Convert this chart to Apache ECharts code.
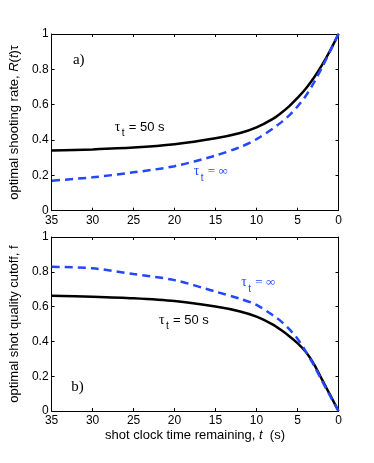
<!DOCTYPE html>
<html>
<head>
<meta charset="utf-8">
<script src="https://cdn.jsdelivr.net/npm/echarts@6/dist/echarts.min.js"></script>
<style>
html,body{margin:0;padding:0;background:#fff;}
#chart{width:374px;height:463px;}
</style>
</head>
<body>
<div id="chart"></div>
<script>
// shot clock time remaining (s)
const times = [35, 30, 25, 20, 15, 12, 10, 8, 7, 6, 5, 4, 3, 2, 1, 0];
// a) optimal shooting rate R(t)tau
const rateTau50 = [0.341, 0.347, 0.357, 0.376, 0.410, 0.440, 0.472, 0.520, 0.553, 0.592, 0.638, 0.690, 0.752, 0.825, 0.908, 1.0];
const rateTauInf = [0.170, 0.189, 0.217, 0.252, 0.312, 0.360, 0.405, 0.465, 0.500, 0.540, 0.590, 0.649, 0.725, 0.812, 0.905, 1.0];
// b) optimal shot quality cutoff f
const cutoffTau50 = [0.663, 0.657, 0.648, 0.632, 0.600, 0.572, 0.542, 0.496, 0.465, 0.430, 0.390, 0.340, 0.270, 0.180, 0.090, 0];
const cutoffTauInf = [0.829, 0.820, 0.787, 0.752, 0.686, 0.645, 0.610, 0.550, 0.515, 0.470, 0.415, 0.343, 0.263, 0.172, 0.085, 0];
// axis ranges / ticks
const xMin = 0, xMax = 35, xStep = 5;
const yMin = 0, yMax = 1, yStep = 0.2;
// annotation anchors [t, value]
const labelA = [32.4, 0.852];
const labelB = [32.6, 0.138];
const noteRate50 = [27.3, 0.47];
const noteRateInf = [17.65, 0.22];
const noteCut50 = [21.9, 0.522];
const noteCutInf = [11.85, 0.737];

const BLACK = '#000';
const BLUE = '#2446ff';
const SANS = 'Liberation Sans, Arial, Helvetica, sans-serif';
const SERIF = 'Liberation Serif, Times New Roman, serif';

const chart = echarts.init(document.getElementById('chart'), null, {renderer: 'canvas'});

function xAx(gridIndex, pos, labels, name) {
  const a = {
    type: 'value', gridIndex: gridIndex, position: pos, inverse: true,
    min: xMin, max: xMax, interval: xStep,
    axisLine: {show: true, onZero: false, lineStyle: {color: BLACK, width: 1}},
    axisTick: {show: true, inside: true, length: 3, lineStyle: {color: BLACK}},
    splitLine: {show: false},
    axisLabel: {show: labels, color: BLACK, fontSize: 12, fontFamily: SANS, margin: 4}
  };
  if (name) {
    a.name = name;
    a.nameLocation = 'middle';
    a.nameGap = 18;
    a.nameTextStyle = {
      color: BLACK, fontSize: 13, fontFamily: SANS, verticalAlign: 'top',
      rich: {
        n: {color: BLACK, fontSize: 13, fontFamily: SANS},
        i: {color: BLACK, fontSize: 13, fontFamily: SANS, fontStyle: 'italic'}
      }
    };
  }
  return a;
}
function yAx(gridIndex, pos, labels, name) {
  const a = {
    type: 'value', gridIndex: gridIndex, position: pos,
    min: yMin, max: yMax, interval: yStep,
    axisLine: {show: true, onZero: false, lineStyle: {color: BLACK, width: 1}},
    axisTick: {show: true, inside: true, length: 3, lineStyle: {color: BLACK}},
    splitLine: {show: false},
    axisLabel: {show: labels, color: BLACK, fontSize: 12, fontFamily: SANS, margin: 3}
  };
  if (name) {
    a.name = name;
    a.nameLocation = 'middle';
    a.nameGap = 24;
    a.nameRotate = 90;
    a.nameTextStyle = {
      color: BLACK, fontSize: 13, fontFamily: SANS,
      rich: {
        n: {color: BLACK, fontSize: 13, fontFamily: SANS},
        i: {color: BLACK, fontSize: 13, fontFamily: SANS, fontStyle: 'italic'}
      }
    };
  }
  return a;
}
// points ordered by increasing t so the smoothing stays monotone
function pairs(ys) { return times.map((t, i) => [t, ys[i]]).sort((a, b) => a[0] - b[0]); }
function line(data, xi, yi, color, dashed) {
  return {
    type: 'line', xAxisIndex: xi, yAxisIndex: yi, data: pairs(data),
    smooth: 0.3, symbol: 'none', silent: true,
    lineStyle: {color: color, width: 2.5, type: dashed ? [8, 5] : 'solid', cap: 'butt'},
    z: dashed ? 3 : 2
  };
}

chart.setOption({
  animation: false,
  backgroundColor: '#fff',
  grid: [
    {left: 48.5, top: 34, width: 290, height: 176.7},
    {left: 48.5, top: 237, width: 290, height: 174}
  ],
  xAxis: [
    xAx(0, 'bottom', true),
    xAx(0, 'top', false),
    xAx(1, 'bottom', true, '{n|shot clock time remaining, }{i|t}{n|  (s)}'),
    xAx(1, 'top', false)
  ],
  yAxis: [
    yAx(0, 'left', true, '{n|optimal shooting rate, }{i|R}{n|(}{i|t}{n|)τ}'),
    yAx(0, 'right', false),
    yAx(1, 'left', true, '{n|optimal shot quality cutoff, f}'),
    yAx(1, 'right', false)
  ],
  series: [
    line(rateTau50, 0, 0, BLACK, false),
    line(rateTauInf, 0, 0, BLUE, true),
    line(cutoffTau50, 2, 2, BLACK, false),
    line(cutoffTauInf, 2, 2, BLUE, true)
  ]
});

function px(gridIdx, pt) {
  return chart.convertToPixel({xAxisIndex: gridIdx * 2, yAxisIndex: gridIdx * 2}, pt);
}
function tauNote(p, rest, color, restFont) {
  return {
    type: 'group', x: p[0], y: p[1],
    children: [
      {type: 'text', x: 0, y: 0, style: {text: 'τ', fill: color, font: '14px ' + SERIF, textVerticalAlign: 'middle'}},
      {type: 'text', x: 7, y: 6, style: {text: 't', fill: color, font: '10px ' + SANS, textVerticalAlign: 'middle'}},
      {type: 'text', x: 14, y: 0, style: {text: rest, fill: color, font: restFont, textVerticalAlign: 'middle'}}
    ]
  };
}
const pA = px(0, labelA), pB = px(1, labelB);
chart.setOption({
  graphic: [
    {type: 'text', x: pA[0], y: pA[1], style: {text: 'a)', fill: BLACK, font: '15px ' + SERIF, textVerticalAlign: 'middle'}},
    {type: 'text', x: pB[0], y: pB[1], style: {text: 'b)', fill: BLACK, font: '15px ' + SERIF, textVerticalAlign: 'middle'}},
    tauNote(px(0, noteRate50), '= 50 s', BLACK, '13px ' + SANS),
    tauNote(px(0, noteRateInf), '= ∞', BLUE, '13px ' + SERIF),
    tauNote(px(1, noteCut50), '= 50 s', BLACK, '13px ' + SANS),
    tauNote(px(1, noteCutInf), '= ∞', BLUE, '13px ' + SERIF)
  ]
});
</script>
</body>
</html>
